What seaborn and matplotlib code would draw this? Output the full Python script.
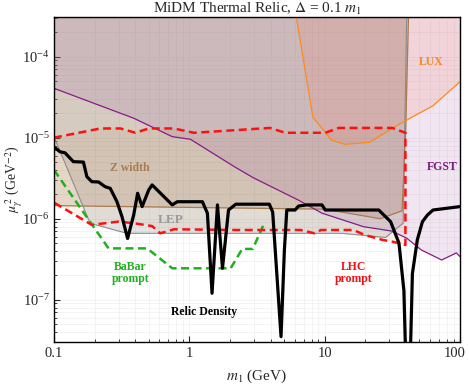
import numpy as np
import pandas as pd
import matplotlib
matplotlib.use("Agg")
import matplotlib.pyplot as plt
import matplotlib.transforms as mtransforms
import seaborn as sns

# ---------------- data ----------------
relic_m = [0.1, 0.1108, 0.1207, 0.139, 0.165, 0.175, 0.1905, 0.2133, 0.239, 0.2604,
           0.292, 0.318, 0.350, 0.388, 0.415, 0.448, 0.501, 0.531, 0.748, 0.815,
           1.249, 1.36, 1.472, 1.614, 1.758, 1.948, 2.207, 3.90, 4.13, 4.76,
           5.04, 5.25, 6.05, 6.40, 7.39, 9.55, 10.1, 25.1, 30.7, 35.4,
           38.5, 40.1, 42.5, 44.5, 48.4, 52.8, 57.5, 63.2, 100]
relic_mu = [7.7e-6, 6.7e-6, 6.5e-6, 5.06e-6, 5.0e-6, 3.3e-6, 2.86e-6, 2.84e-6, 2.48e-6, 2.37e-6,
            1.62e-6, 1.06e-6, 5.7e-7, 1.11e-6, 2.06e-6, 1.41e-6, 2.26e-6, 2.61e-6, 1.48e-6, 1.62e-6,
            1.62e-6, 1.17e-6, 1.2e-7, 1.48e-6, 2.44e-7, 1.28e-6, 1.51e-6, 1.51e-6, 1.21e-6, 3.5e-8,
            4.1e-7, 1.28e-6, 1.28e-6, 1.43e-6, 1.48e-6, 1.48e-6, 1.28e-6, 1.28e-6, 9.2e-7, 5.0e-7,
            1.3e-7, 1.0e-8, 1.0e-8, 2.1e-7, 5.5e-7, 9.2e-7, 1.11e-6, 1.28e-6, 1.41e-6]

lhc_m = [0.1, 0.22, 0.31, 0.40, 0.50, 0.77, 1.08, 2.2, 3.95, 5.1, 10.1, 12.7, 31.6, 39.5,
         39.5, 31.7, 26.9, 19.8, 16.3, 9.4, 8.4, 6.66, 2.2, 0.77, 0.61, 0.531, 0.388, 0.30, 0.19, 0.1]
lhc_mu = [1.0e-5, 1.3e-5, 1.3e-5, 1.15e-5, 1.3e-5, 1.3e-5, 1.15e-5, 1.24e-5, 1.32e-5, 1.15e-5,
          1.15e-5, 1.32e-5, 1.32e-5, 1.15e-5,
          4.74e-7, 5.2e-7, 5.46e-7, 6.29e-7, 7.25e-7, 7.25e-7, 6.6e-7, 7.25e-7, 7.25e-7, 7.4e-7,
          6.6e-7, 8.1e-7, 8.8e-7, 9.2e-7, 8.4e-7, 1.58e-6]

babar_m = [0.1, 0.253, 0.488, 0.748, 2.02, 2.46, 2.94, 3.58]
babar_mu = [4.0e-6, 4.3e-7, 4.3e-7, 2.44e-7, 2.44e-7, 4.23e-7, 4.23e-7, 8.8e-7]

fgst_m = [0.1, 0.388, 0.748, 1.02, 2.15, 2.96, 6.38, 9.55, 19.4, 31.1, 40.2, 51.8, 73.2, 94, 100]
fgst_mu = [4.07e-5, 1.74e-5, 1.03e-5, 9.55e-6, 4.39e-6, 3.21e-6, 1.70e-6, 1.17e-6, 7.96e-7,
           7.05e-7, 5.78e-7, 4.11e-7, 3.09e-7, 3.78e-7, 3.4e-7]

lux_m = [6.1, 8.19, 11.2, 14.1, 21.5, 31.6, 44.0, 62.7, 100]
lux_mu = [3.5e-4, 1.79e-5, 9.37e-6, 8.29e-6, 8.77e-6, 1.31e-5, 1.79e-5, 2.46e-5, 4.91e-5]

zwidth_m = [0.1, 10.1, 25.7, 37.3, 39.7, 41.7]
zwidth_mu = [1.45e-6, 1.31e-6, 1.0e-6, 1.25e-6, 1.24e-5, 3.5e-4]

lep_m = [0.1, 0.185, 0.346, 13.4, 28.2, 38.0, 40.4]
lep_mu = [1.03e-5, 8.77e-7, 6.6e-7, 6.6e-7, 5.86e-7, 8.8e-7, 3.5e-4]

Y_TOP = 1e-3
x_ticks = [0.1, 1, 10, 100]
x_tick_labels = ["0.1", "1", "10", "100"]
y_ticks = [1e-7, 1e-6, 1e-5, 1e-4]

# ---------------- style ----------------
sns.set_style("white")
plt.rcParams["font.family"] = ["Liberation Serif", "DejaVu Serif"]
plt.rcParams["mathtext.fontset"] = "stix"

fig = plt.figure(figsize=(4.69, 3.84), dpi=100)
ax = fig.add_axes([0.1151, 0.1102, 0.8657, 0.8455])
ax.set_xscale("log")
ax.set_yscale("log")
ax.set_xlim(0.1, 100)
ax.set_ylim(3.03e-8, 3.09e-4)

# ---------------- filled regions ----------------
ax.fill(lhc_m, lhc_mu, color=(0.85, 0.6, 0.4), alpha=0.12, lw=0, zorder=0.8)
ax.fill_between(lep_m, lep_mu, Y_TOP, color=(0.5, 0.5, 0.5), alpha=0.2, lw=0, zorder=0.9)
ax.fill_between(zwidth_m, zwidth_mu, Y_TOP, color=(0.6, 0.4, 0.2), alpha=0.2, lw=0, zorder=0.9)
ax.fill_between(fgst_m, fgst_mu, Y_TOP, color=(0.6, 0.3, 0.6), alpha=0.14, lw=0, zorder=0.9)
ax.fill_between(lux_m, lux_mu, Y_TOP, color=(1.0, 0.4, 0.3), alpha=0.13, lw=0, zorder=0.9)

# ---------------- boundary lines ----------------
def line(xs, ys, **kw):
    df = pd.DataFrame({"m": xs, "mu": ys})
    sns.lineplot(data=df, x="m", y="mu", sort=False, estimator=None, ax=ax, **kw)

line(lep_m, lep_mu, color="#8c8c8c", lw=0.8)
line(zwidth_m, zwidth_mu, color="#a87c50", lw=0.9)
line(fgst_m, fgst_mu, color="#8a1a8a", lw=0.9)
line(lux_m, lux_mu, color="#ff8a1a", lw=0.9)
line(babar_m, babar_mu, color="#1fb01f", lw=1.8, linestyle=(0, (3.2, 1.8)))
line(lhc_m, lhc_mu, color="#ff1010", lw=1.8, linestyle=(0, (3.2, 1.8)))
line(relic_m, relic_mu, color="black", lw=2.3)

# ---------------- labels ----------------
lab = dict(fontsize=8.5, fontweight="bold", ha="center", va="center")
ax.text(0.361, 4.27e-6, "Z width", color="#a87c50", **lab)
ax.text(0.727, 9.5e-7, "LEP", color="#9a9a9a", fontsize=9.5, fontweight="bold", ha="center", va="center")
ax.text(0.366, 2.12e-7, "BaBar\nprompt", color="#22b022", linespacing=1.0, **lab)
ax.text(1.28, 7.05e-8, "Relic Density", color="black", **lab)
ax.text(16.4, 2.12e-7, "LHC\nprompt", color="#ee1111", linespacing=1.0, **lab)
ax.text(60.8, 8.67e-5, "LUX", color="#f5891f", **lab)
ax.text(74.3, 4.39e-6, "FGST", color="#7a1a7a", **lab)

# ---------------- axes cosmetics ----------------
ax.set_axisbelow(True)
ax.grid(which="both", color="#ececec", lw=0.45)
ax.set_xticks(x_ticks)
ax.set_xticklabels(x_tick_labels)
ax.set_yticks(y_ticks)
ax.tick_params(which="both", direction="in", labelsize=10.5, top=False, right=False,
               bottom=True, left=True)
ax.tick_params(axis="y", pad=3)
ax.tick_params(which="major", length=4, width=0.8)
ax.tick_params(which="minor", length=2, width=0.6)
for s in ax.spines.values():
    s.set_color("black")
    s.set_linewidth(1.0)

# keep the last x tick label inside the canvas
last = ax.get_xticklabels()[-1]
last.set_transform(last.get_transform() +
                   mtransforms.ScaledTranslation(-4 / 72, 0, fig.dpi_scale_trans))

ax.set_xlabel("$m_1$ (GeV)", fontsize=11, labelpad=6)
ax.set_ylabel(r"$\mu_\gamma^{\,2}$ (GeV$^{-2}$)", fontsize=10)
ax.yaxis.set_label_coords(-0.072, 0.5)
ax.set_title(r"MiDM Thermal Relic, $\Delta$ = 0.1 $m_1$", fontsize=11, pad=2)

fig.savefig("out.png", dpi=100)
